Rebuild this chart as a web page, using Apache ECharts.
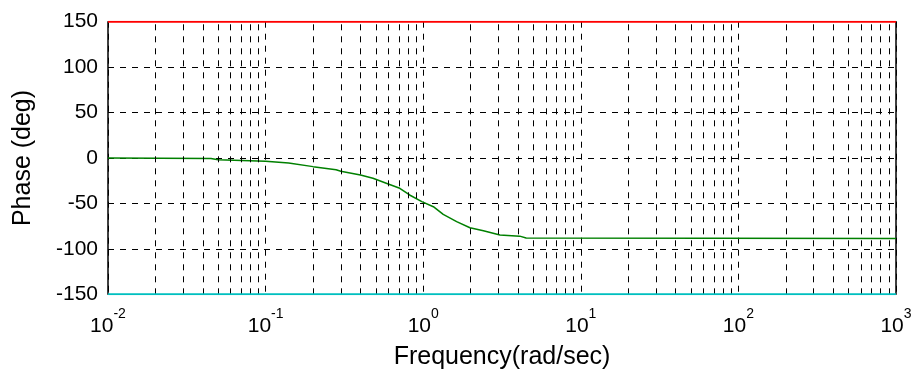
<!DOCTYPE html>
<html>
<head>
<meta charset="utf-8">
<script src="https://cdn.jsdelivr.net/npm/echarts@6/dist/echarts.min.js"></script>
<style>
  html, body { margin: 0; padding: 0; background: #fff; }
  #chart { width: 914px; height: 372px; }
</style>
</head>
<body>
<div id="chart"></div>
<script>
// ---- data ----
const freq  = [0.01, 0.045, 0.05, 0.1, 0.14, 0.2, 0.28, 0.3, 0.4, 0.48, 0.6, 0.71, 0.82, 0.98, 1.16, 1.34, 1.63, 1.98, 2.41, 3.07, 4.1, 4.5, 1000];
const phase = [0, -0.5, -2, -3.5, -5.5, -9.5, -13, -14.5, -18.7, -22.3, -28.6, -33.3, -40.7, -48, -53.6, -62, -70, -76.7, -80, -84.7, -86, -88, -88.5];
const upperLine = [150, 150];
const lowerLine = [-150, -150];
const lineFreq = [0.01, 1000];
const xDecadeExps = [-2, -1, 0, 1, 2, 3];
const yTicks = [-150, -100, -50, 0, 50, 100, 150];
const minorMultipliers = [2, 3, 4, 5, 6, 7, 8, 9];

const FONT = "'Liberation Sans', Arial, sans-serif";

// minor log grid positions built from the decades
const minorVals = [];
for (let i = 0; i < xDecadeExps.length - 1; i++) {
  for (const m of minorMultipliers) minorVals.push(m * Math.pow(10, xDecadeExps[i]));
}

const chart = echarts.init(document.getElementById('chart'), null, { renderer: 'canvas' });
const dash = [6, 6];

chart.setOption({
  animation: false,
  backgroundColor: '#fff',
  grid: {
    left: 108, right: 18, top: 21.7, bottom: 77.7,
    containLabel: false,
    outerBoundsMode: 'none',
    show: true, borderColor: '#000', borderWidth: 0, backgroundColor: '#fff'
  },
  xAxis: {
    type: 'log', logBase: 10,
    min: Math.pow(10, xDecadeExps[0]),
    max: Math.pow(10, xDecadeExps[xDecadeExps.length - 1]),
    name: 'Frequency(rad/sec)',
    nameLocation: 'middle',
    nameGap: 50,
    nameMoveOverlap: false,
    nameTextStyle: { fontFamily: FONT, fontSize: 25, color: '#000' },
    axisLine: { show: false },
    axisTick: { show: false },
    axisLabel: {
      margin: 21,
      formatter: function (v) {
        const e = Math.round(Math.log10(v));
        return '{b|10}{s|' + e + '}';
      },
      rich: {
        b: { fontFamily: FONT, fontSize: 21, color: '#000', lineHeight: 22 },
        s: { fontFamily: FONT, fontSize: 14, color: '#000', lineHeight: 14, padding: [0, 0, 24, 0] }
      }
    },
    splitLine: { show: true, lineStyle: { color: '#000', width: 1, type: dash } }
  },
  yAxis: [
    {
      type: 'value',
      min: yTicks[0], max: yTicks[yTicks.length - 1], interval: 50,
      name: 'Phase (deg)',
      nameLocation: 'middle',
      nameGap: 72,
      nameMoveOverlap: false,
      nameTextStyle: { fontFamily: FONT, fontSize: 25, color: '#000' },
      axisLine: { show: true, lineStyle: { color: '#000', width: 1.5 } },
      axisTick: { show: false },
      axisLabel: { fontFamily: FONT, fontSize: 21, color: '#000', margin: 10 },
      splitLine: { show: true, lineStyle: { color: '#000', width: 1, type: dash } }
    },
    {
      type: 'value', position: 'right',
      min: yTicks[0], max: yTicks[yTicks.length - 1], interval: 50,
      axisLine: { show: true, lineStyle: { color: '#000', width: 1.5 } },
      axisTick: { show: false },
      axisLabel: { show: false },
      splitLine: { show: false }
    }
  ],
  series: [
    {
      type: 'line', name: 'minorgrid', data: [], silent: true,
      markLine: {
        silent: true, symbol: 'none', animation: false,
        label: { show: false },
        lineStyle: { color: '#000', width: 1, type: dash },
        data: minorVals.map(v => ({ xAxis: v }))
      }
    },
    {
      type: 'line', name: 'phase', z: 4,
      data: freq.map((f, i) => [f, phase[i]]),
      showSymbol: false, symbol: 'none',
      lineStyle: { color: '#008000', width: 1.5 }
    },
    {
      type: 'line', name: 'upper', z: 5,
      data: lineFreq.map((f, i) => [f, upperLine[i]]),
      showSymbol: false, symbol: 'none',
      lineStyle: { color: '#ff0000', width: 2 }
    },
    {
      type: 'line', name: 'lower', z: 5,
      data: lineFreq.map((f, i) => [f, lowerLine[i]]),
      showSymbol: false, symbol: 'none',
      lineStyle: { color: '#00bfbf', width: 2 }
    }
  ]
});
</script>
</body>
</html>
